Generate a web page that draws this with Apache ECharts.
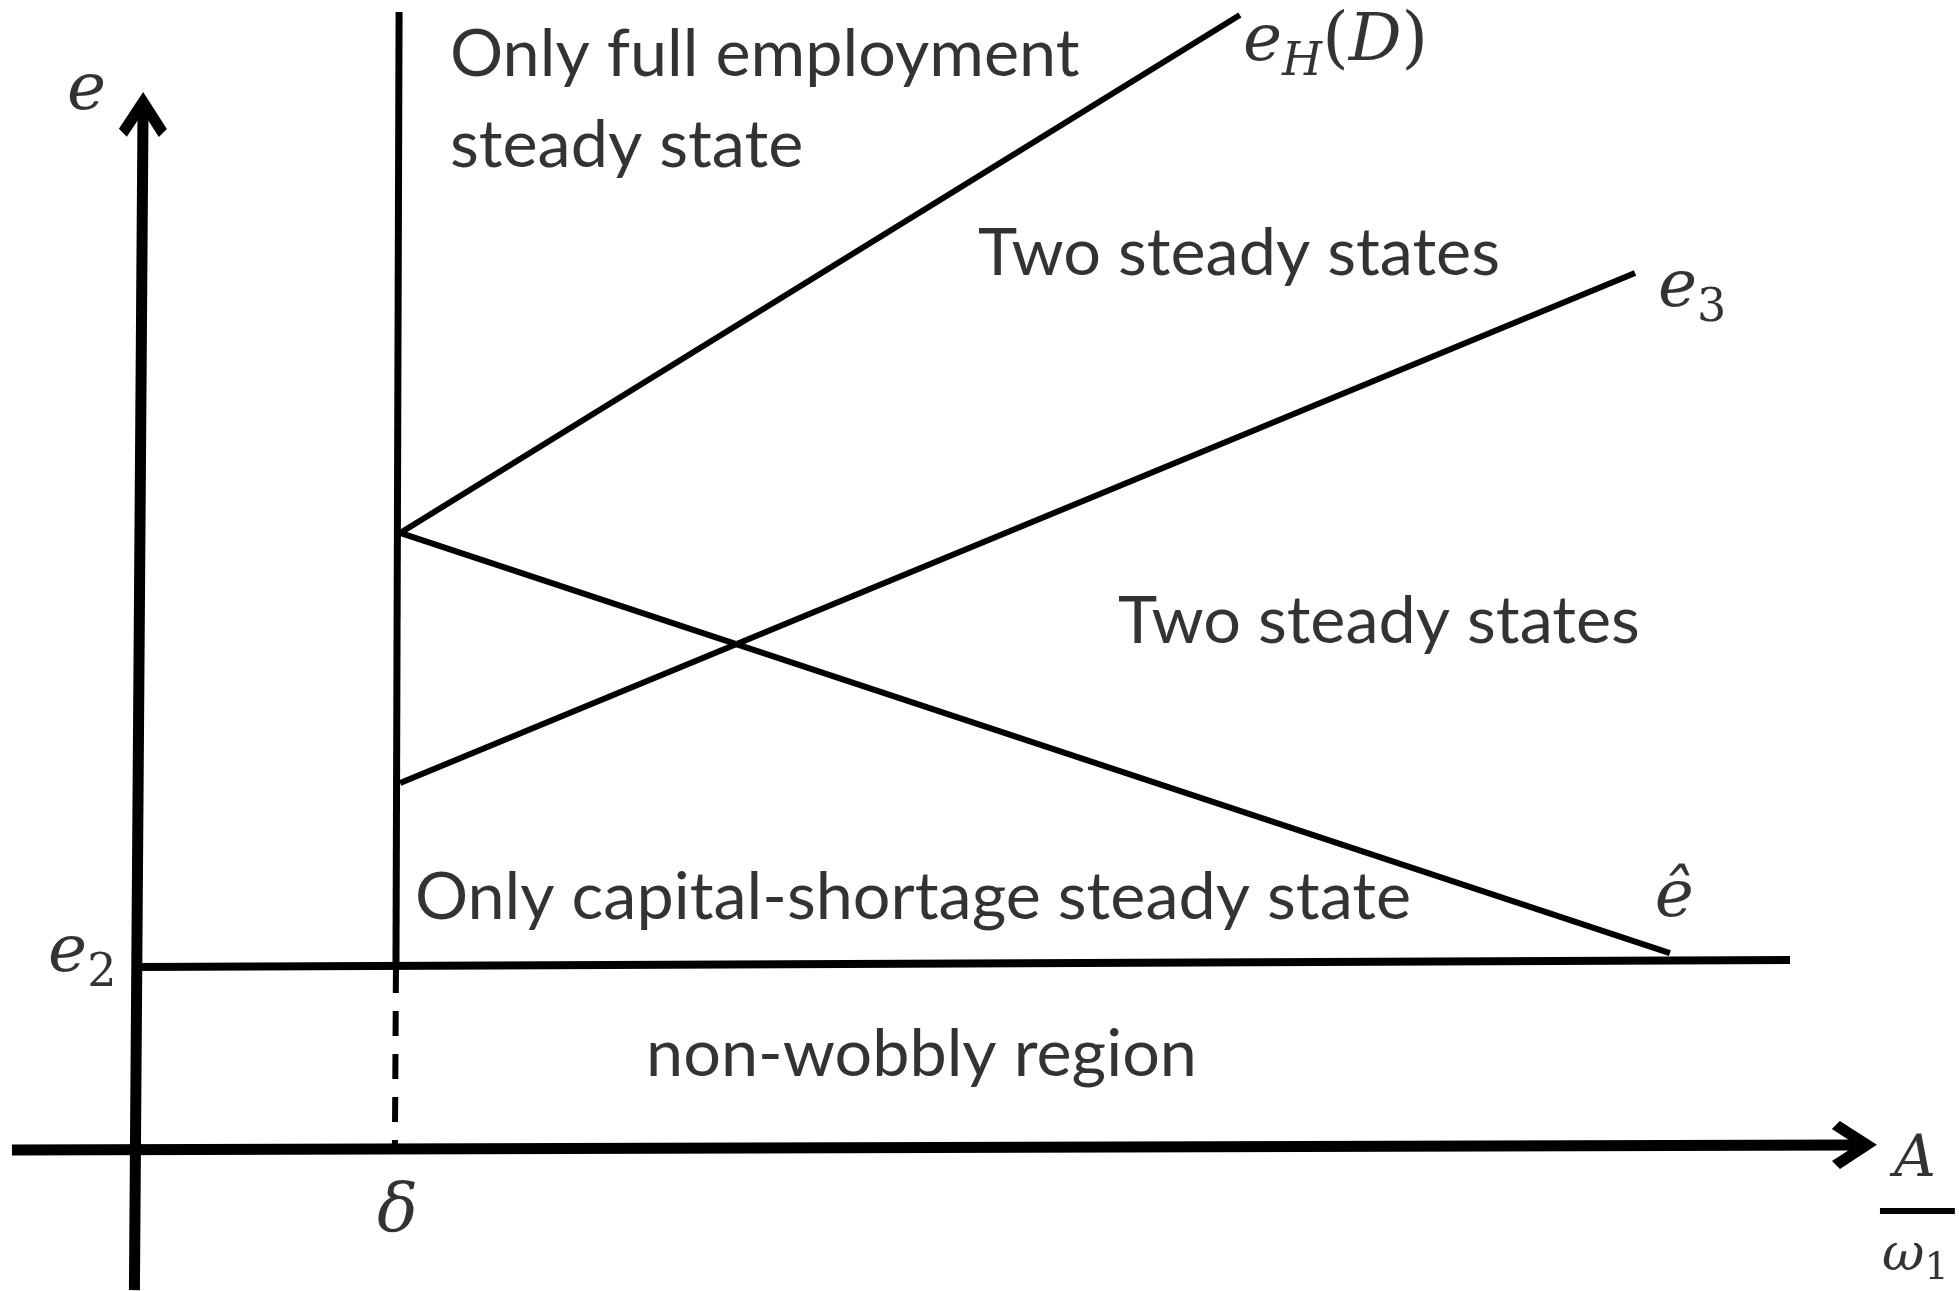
<!DOCTYPE html>
<html>
<head>
<meta charset="utf-8">
<title>Steady state regions</title>
<script src="https://cdn.jsdelivr.net/npm/echarts@6/dist/echarts.min.js"></script>
<style>
  html, body { margin: 0; padding: 0; background: #fff; }
  #chart { width: 1959px; height: 1291px; }
</style>
</head>
<body>
<div id="chart"></div>
<script>
// diagram units: origin where the axes cross, delta = 1 on x, e2 = 1 on y
const eHLine = [[1.012, 3.398], [4.242, 6.26]];
const eHatLine = [[1.012, 3.398], [5.896, 1.077]];
const e3Line = [[1.012, 2.017], [5.762, 4.834]];
const e2Line = [[0, 1.0], [6.358, 1.039]];
const deltaLine = [[1.008, 6.276], [0.996, 1.0]];
const deltaDash = [[0.996, 0.995], [0.992, 0.011]];
const xAxisLine = [[-0.481, -0.011], [6.6, 0.017]];
const yAxisLine = [[-0.01, -0.785], [0.023, 5.702]];
const fracBar = [[6.704, -0.348], [6.992, -0.348]];

// region names
const regionNames = [
  [1.204, 6.039, 'Only full employment'],
  [1.204, 5.541, 'steady state'],
  [3.235, 4.939, 'Two steady states'],
  [3.773, 2.906, 'Two steady states'],
  [1.069, 1.381, 'Only capital-shortage steady state'],
  [1.958, 0.519, 'non-wobbly region']
];

// curve and axis symbols
const mathLabels = [
  [-0.269, 5.833, '{b|e}'],
  [4.254, 6.083, '{m|e}{s|H}{p|(}{m|D}{p|)}'],
  [5.85, 4.718, '{m|e}{n|3}'],
  [5.838, 1.376, '{b|ê}'],
  [-0.342, 1.044, '{m|e}{n|2}'],
  [0.923, -0.362, '{d|δ}'],
  [6.758, -0.072, '{a|A}'],
  [6.712, -0.616, '{w|ω}{w1|1}']
];

const chevron = 'path://M24,0L48,37L40,45L29,28L29,48L19,48L19,28L8,45L0,37Z';
const serif = 'DejaVu Serif';

function segment(data, width, type) {
  return {
    type: 'line',
    data: data,
    symbol: 'none',
    silent: true,
    lineStyle: { color: '#000', width: width, type: type || 'solid', cap: 'butt' }
  };
}

const chart = echarts.init(document.getElementById('chart'), null, { renderer: 'canvas' });

chart.setOption({
  backgroundColor: '#fff',
  animation: false,
  grid: { left: 0, right: 0, top: 0, bottom: 0 },
  xAxis: { type: 'value', min: -0.527, max: 7.008, show: false },
  yAxis: { type: 'value', min: -0.79, max: 6.3425, show: false },
  series: [
    segment(eHLine, 6),
    segment(eHatLine, 6),
    segment(e3Line, 6),
    segment(e2Line, 8),
    segment(deltaLine, 7),
    segment(deltaDash, 6, [25, 18]),
    segment(fracBar, 6),
    {
      type: 'lines',
      coordinateSystem: 'cartesian2d',
      silent: true,
      symbol: ['none', chevron],
      symbolSize: 48,
      lineStyle: { color: '#000', width: 11, opacity: 1 },
      data: [{ coords: xAxisLine }, { coords: yAxisLine }]
    },
    {
      type: 'scatter',
      symbolSize: 0,
      silent: true,
      data: regionNames.map((d) => ({ value: [d[0], d[1]], name: d[2] })),
      label: {
        show: true,
        position: [0, 0],
        align: 'left',
        verticalAlign: 'middle',
        formatter: '{b}',
        color: '#000',
        fontFamily: 'Lato',
        fontSize: 66.5
      }
    },
    {
      type: 'scatter',
      symbolSize: 0,
      silent: true,
      data: mathLabels.map((d) => ({ value: [d[0], d[1]], name: d[2] })),
      label: {
        show: true,
        position: [0, 0],
        align: 'left',
        verticalAlign: 'middle',
        formatter: '{b}',
        color: '#000',
        rich: {
          b: { fontFamily: serif, fontStyle: 'italic', fontSize: 66, color: '#000' },
          m: { fontFamily: serif, fontStyle: 'italic', fontSize: 66, color: '#000', verticalAlign: 'bottom', padding: [0, 0, 10, 0] },
          p: { fontFamily: serif, fontSize: 68, color: '#000', verticalAlign: 'bottom', padding: [0, 0, 10, 0] },
          s: { fontFamily: serif, fontStyle: 'italic', fontSize: 46, color: '#000', verticalAlign: 'bottom' },
          n: { fontFamily: serif, fontSize: 46, color: '#000', verticalAlign: 'bottom' },
          d: { fontFamily: serif, fontStyle: 'italic', fontSize: 68, color: '#000' },
          a: { fontFamily: serif, fontStyle: 'italic', fontSize: 58, color: '#000' },
          w: { fontFamily: serif, fontStyle: 'italic', fontSize: 52, color: '#000', verticalAlign: 'bottom', padding: [0, 0, 6, 0] },
          w1: { fontFamily: serif, fontSize: 38, color: '#000', verticalAlign: 'bottom' }
        }
      }
    }
  ]
});
</script>
</body>
</html>
